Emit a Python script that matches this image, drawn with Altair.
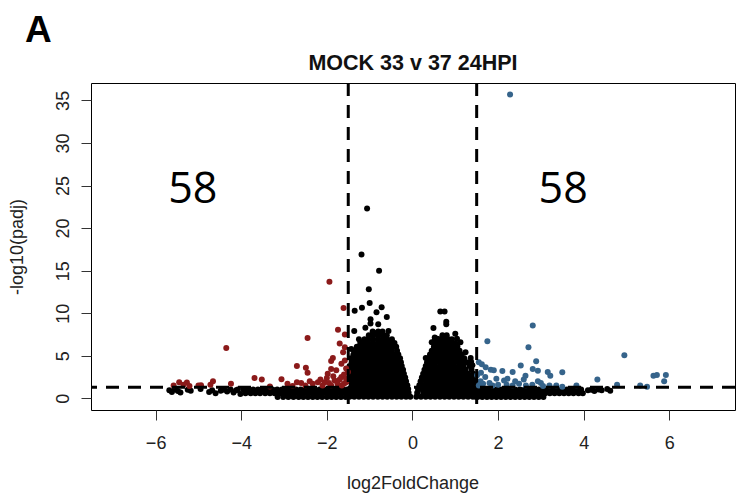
import altair as alt
import pandas as pd

# ---------------- data ----------------
title_text = "MOCK 33 v 37 24HPI"
panel_letter = "A"
x_title = "log2FoldChange"
y_title = "-log10(padj)"
x_ticks = [-6, -4, -2, 0, 2, 4, 6]
y_ticks = [0, 5, 10, 15, 20, 25, 30, 35]
lfc_cutoffs = [-1.5, 1.5]
padj_cutoff = [1.3]
count_labels = ["58", "58"]
count_x = [-5.13, 3.52]
count_y = [22.9, 22.9]

# dense non-significant genes, left hump (y, list of x)
left_blob_rows = [
    (0.20, [-1.47, -1.36, -1.25, -1.14, -1.03, -0.92, -0.81, -0.70, -0.59, -0.48, -0.37, -0.26, -0.15, -0.05]),
    (0.65, [-1.42, -1.31, -1.20, -1.09, -0.98, -0.87, -0.76, -0.65, -0.54, -0.43, -0.32, -0.21, -0.09]),
    (1.10, [-1.47, -1.36, -1.25, -1.14, -1.03, -0.92, -0.81, -0.70, -0.59, -0.48, -0.37, -0.26, -0.15, -0.10]),
    (1.55, [-1.42, -1.31, -1.20, -1.09, -0.98, -0.87, -0.76, -0.65, -0.54, -0.43, -0.32, -0.21, -0.12]),
    (2.00, [-1.47, -1.36, -1.25, -1.14, -1.03, -0.92, -0.81, -0.70, -0.59, -0.48, -0.37, -0.26, -0.15]),
    (2.45, [-1.42, -1.31, -1.20, -1.09, -0.98, -0.87, -0.76, -0.65, -0.54, -0.43, -0.32, -0.21, -0.17]),
    (2.90, [-1.47, -1.36, -1.25, -1.14, -1.03, -0.92, -0.81, -0.70, -0.59, -0.48, -0.37, -0.26, -0.20]),
    (3.35, [-1.42, -1.31, -1.20, -1.09, -0.98, -0.87, -0.76, -0.65, -0.54, -0.43, -0.32, -0.22]),
    (3.80, [-1.47, -1.36, -1.25, -1.14, -1.03, -0.92, -0.81, -0.70, -0.59, -0.48, -0.37, -0.25]),
    (4.25, [-1.42, -1.31, -1.20, -1.09, -0.98, -0.87, -0.76, -0.65, -0.54, -0.43, -0.32, -0.27]),
    (4.70, [-1.44, -1.36, -1.25, -1.14, -1.03, -0.92, -0.81, -0.70, -0.59, -0.48, -0.37, -0.29]),
    (5.15, [-1.38, -1.31, -1.20, -1.09, -0.98, -0.87, -0.76, -0.65, -0.54, -0.43, -0.33]),
    (5.60, [-1.36, -1.25, -1.14, -1.03, -0.92, -0.81, -0.70, -0.59, -0.48, -0.36]),
    (6.05, [-1.30, -1.20, -1.09, -0.98, -0.87, -0.76, -0.65, -0.54, -0.44, -0.38]),
    (6.50, [-1.22, -1.14, -1.03, -0.92, -0.81, -0.70, -0.59, -0.50, -0.42]),
    (6.95, [-1.12, -1.03, -0.92, -0.81, -0.70, -0.59, -0.48]),
    (7.40, [-1.02, -0.92, -0.81, -0.70, -0.60]),
    (7.85, [-0.93, -0.80, -0.70]),
]

# dense non-significant genes, right hump (y, list of x)
right_blob_rows = [
    (0.20, [0.09, 0.20, 0.31, 0.42, 0.53, 0.64, 0.75, 0.86, 0.97, 1.08, 1.19, 1.30, 1.41, 1.48]),
    (0.65, [0.11, 0.25, 0.36, 0.47, 0.58, 0.69, 0.80, 0.91, 1.02, 1.13, 1.24, 1.35, 1.45]),
    (1.10, [0.13, 0.20, 0.31, 0.42, 0.53, 0.64, 0.75, 0.86, 0.97, 1.08, 1.19, 1.30, 1.41, 1.48]),
    (1.55, [0.16, 0.25, 0.36, 0.47, 0.58, 0.69, 0.80, 0.91, 1.02, 1.13, 1.24, 1.35, 1.45]),
    (2.00, [0.19, 0.31, 0.42, 0.53, 0.64, 0.75, 0.86, 0.97, 1.08, 1.19, 1.30, 1.41, 1.47]),
    (2.45, [0.22, 0.30, 0.36, 0.47, 0.58, 0.69, 0.80, 0.91, 1.02, 1.13, 1.24, 1.35, 1.45]),
    (2.90, [0.25, 0.31, 0.42, 0.53, 0.64, 0.75, 0.86, 0.97, 1.08, 1.19, 1.30, 1.42]),
    (3.35, [0.28, 0.36, 0.47, 0.58, 0.69, 0.80, 0.91, 1.02, 1.13, 1.24, 1.38]),
    (3.80, [0.31, 0.42, 0.53, 0.64, 0.75, 0.86, 0.97, 1.08, 1.19, 1.33]),
    (4.25, [0.34, 0.43, 0.54, 0.65, 0.76, 0.87, 0.98, 1.09, 1.18, 1.27]),
    (4.70, [0.37, 0.48, 0.59, 0.70, 0.81, 0.92, 1.03, 1.13, 1.21]),
    (5.15, [0.41, 0.51, 0.62, 0.73, 0.84, 0.95, 1.06, 1.15]),
    (5.60, [0.45, 0.56, 0.67, 0.78, 0.89, 1.00, 1.10]),
    (6.05, [0.50, 0.61, 0.72, 0.83, 0.94, 1.05]),
    (6.50, [0.55, 0.66, 0.77, 0.88, 1.00]),
    (6.95, [0.62, 0.73, 0.84, 0.92]),
    (7.40, [0.70, 0.80]),
]

# low band of non-significant genes, left of -1.5
left_band_rows = [
    (1.05, [-4.08, -3.95, -3.84, -3.72, -3.61, -3.50, -3.38, -3.27, -3.16, -3.05, -2.94, -2.83,
            -2.72, -2.61, -2.50, -2.39, -2.28, -2.17, -2.06, -1.95, -1.84, -1.73, -1.62, -1.52]),
    (0.60, [-3.90, -3.78, -3.67, -3.56, -3.44, -3.33, -3.22, -3.10, -2.99, -2.88, -2.77, -2.66,
            -2.55, -2.44, -2.33, -2.22, -2.11, -2.00, -1.89, -1.78, -1.67, -1.56]),
    (0.15, [-3.15, -3.02, -2.90, -2.78, -2.66, -2.55, -2.44, -2.33, -2.22, -2.11, -2.00, -1.89,
            -1.78, -1.67, -1.56]),
]

# low band of non-significant genes, right of 1.5
right_band_rows = [
    (1.05, [1.52, 1.63, 1.74, 1.85, 1.96, 2.07, 2.18, 2.29, 2.40, 2.51, 2.62, 2.73, 2.84, 2.95,
            3.06, 3.17, 3.28, 3.39, 3.50, 3.61, 3.72, 3.83, 3.94]),
    (0.60, [1.56, 1.67, 1.78, 1.89, 2.00, 2.11, 2.22, 2.33, 2.44, 2.55, 2.66, 2.77, 2.88, 2.99,
            3.10, 3.21, 3.32, 3.43, 3.54, 3.65, 3.76, 3.88, 3.98]),
    (0.15, [1.52, 1.63, 1.74, 1.85, 1.96, 2.07, 2.18, 2.29, 2.40, 2.51, 2.62, 2.73, 2.84, 2.95, 3.06]),
]

# scattered non-significant genes at the tails
sparse_x = [-5.68, -5.62, -5.55, -5.48, -5.42, -5.25, -5.18, -4.95, -4.75, -4.68, -4.60, -4.48,
            -4.40, -4.33, -4.25, -4.18, -4.12, -4.02, 4.10, 4.18, 4.25, 4.35, 4.42, 4.55, 4.62]
sparse_y = [0.95, 0.75, 1.05, 0.85, 0.70, 1.00, 0.90, 1.10, 0.75, 0.95, 0.60, 0.90,
            1.00, 0.80, 1.05, 0.70, 0.95, 0.50, 0.95, 1.00, 0.85, 1.05, 0.95, 1.10, 0.90]

# black outliers above the humps
outlier_x = [-1.06, -1.19, -0.78, -1.02, -1.00, -1.18, -1.35, -0.72, -0.84, -0.60, -0.98, -0.98,
             -0.80, -1.36, -0.56, -1.25, -0.51, -1.43, -1.10, -0.90, -0.70, -1.20, -0.62,
             0.65, 0.75, 0.79, 0.79, 0.49, 0.52, 0.52, 1.00, 1.04, 1.12, 1.24, 0.31, 1.36,
             1.37, 1.40, 0.58, 0.45, 0.95]
outlier_y = [22.3, 16.9, 15.0, 12.8, 11.2, 10.65, 10.3, 10.7, 10.1, 9.55, 9.3, 8.8,
             8.7, 7.9, 7.9, 6.95, 6.2, 5.8, 8.3, 7.7, 7.5, 6.5, 6.3,
             10.2, 10.2, 9.0, 8.7, 8.25, 7.15, 6.8, 7.6, 7.0, 6.6, 5.4, 4.75, 4.75,
             4.3, 3.9, 7.0, 6.6, 6.2]

# significantly down-regulated (red)
red_x = [-1.94, -1.61, -4.35, -2.45, -1.74, -1.58, -1.70, -1.62, -1.86, -1.90, -2.70, -2.49,
         -2.45, -1.98, -1.90, -1.66, -1.58, -3.69, -3.52, -3.06, -2.70, -2.92, -3.33, -4.24,
         -4.66, -4.72, -4.94, -5.27, -5.35, -5.21, -5.58, -2.21, -2.05, -2.33, -1.82, -1.66,
         -1.55, -1.51, -1.78, -1.58, -1.60, -1.70, -1.75, -1.90, -2.10, -2.50, -2.60, -1.55,
         -1.65, -2.00, -2.80, -1.85, -1.55, -2.15, -2.40, -1.60, -1.95, -5.45, -5.00]
red_y = [13.7, 10.6, 5.9, 7.1, 8.05, 7.5, 6.45, 5.4, 4.75, 4.4, 3.8, 3.6,
         3.0, 2.9, 3.45, 4.05, 4.45, 2.4, 2.2, 2.25, 1.9, 1.7, 1.4, 1.7,
         2.0, 1.6, 1.55, 1.85, 1.6, 1.45, 1.5, 1.9, 1.9, 1.7, 2.1, 2.5,
         1.9, 3.1, 3.3, 6.0, 2.8, 2.2, 1.7, 1.5, 1.5, 1.5, 1.8, 3.5,
         1.5, 2.4, 1.45, 2.6, 2.3, 2.2, 2.0, 1.7, 1.8, 1.9, 1.5]

# significantly up-regulated (blue)
blue_x = [2.28, 2.81, 1.75, 2.71, 4.95, 1.55, 1.71, 1.83, 2.89, 2.81, 2.93, 2.53, 2.34, 2.10,
          1.96, 2.14, 2.22, 2.64, 3.16, 3.22, 3.50, 2.93, 3.20, 3.36, 3.50, 3.83, 4.32, 4.78,
          5.32, 5.48, 5.63, 5.71, 5.92, 5.88, 1.65, 1.59, 1.87, 2.34, 2.49, 2.65, 1.51, 1.60,
          1.70, 1.80, 2.00, 2.40, 2.80, 3.00, 1.55, 2.20, 1.62, 1.90, 2.60, 3.05]
blue_y = [35.7, 8.55, 6.7, 6.0, 5.05, 4.25, 3.65, 3.35, 4.35, 3.45, 3.25, 3.85, 3.1, 3.2,
          2.3, 2.1, 2.3, 2.65, 3.1, 2.65, 3.05, 2.0, 1.5, 1.5, 1.35, 1.5, 2.2, 1.6,
          1.5, 1.35, 2.65, 2.75, 2.75, 2.0, 1.7, 2.0, 1.5, 1.5, 1.7, 1.5, 2.7, 3.0,
          2.5, 1.8, 1.6, 2.0, 1.6, 1.8, 1.5, 1.6, 4.0, 3.3, 2.2, 1.45]

# ---------------- tables ----------------
rows = []
for block in (left_blob_rows, right_blob_rows, left_band_rows, right_band_rows):
    for yv, xs_ in block:
        rows += [(xv, yv) for xv in xs_]
rows += list(zip(sparse_x, sparse_y)) + list(zip(outlier_x, outlier_y))
black_df = pd.DataFrame(rows, columns=["lfc", "nlp"])
red_df = pd.DataFrame({"lfc": red_x, "nlp": red_y})
blue_df = pd.DataFrame({"lfc": blue_x, "nlp": blue_y})
vline_df = pd.DataFrame({"lfc": lfc_cutoffs})
hline_df = pd.DataFrame({"nlp": padj_cutoff})
count_df = pd.DataFrame({"lfc": count_x, "nlp": count_y, "label": count_labels})

W, H = 644, 327
FONT = "Liberation Sans"

xscale = alt.Scale(domain=[-7.51, 7.535], nice=False, zero=False)
yscale = alt.Scale(domain=[-1.37, 37.04], nice=False, zero=False)
xaxis = alt.Axis(values=x_ticks, title=None, domain=False, grid=False, tickSize=10,
                 tickColor="#333333", labelFont=FONT, labelFontSize=18, labelColor="#222222",
                 labelPadding=14, labelFlush=False, labelOverlap=False)
yaxis = alt.Axis(values=y_ticks, title=None, domain=False, grid=False, tickSize=10,
                 tickColor="#333333", labelFont=FONT, labelFontSize=18, labelColor="#222222",
                 labelAngle=270, labelAlign="center", labelBaseline="bottom",
                 labelPadding=9, labelFlush=False, labelOverlap=False)

X = alt.X("lfc:Q", scale=xscale, axis=xaxis)
Y = alt.Y("nlp:Q", scale=yscale, axis=yaxis)


def points(df, color):
    return alt.Chart(df).mark_circle(size=36, opacity=1, color=color).encode(x=X, y=Y)


black_layer = points(black_df, "#000000")
red_layer = points(red_df, "#8B1A1A")
blue_layer = points(blue_df, "#36648B")

vlines = alt.Chart(vline_df).mark_rule(color="black", strokeWidth=3, strokeDash=[13, 9]).encode(x=X)
hline = alt.Chart(hline_df).mark_rule(color="black", strokeWidth=3, strokeDash=[13, 9]).encode(y=Y)

counts = alt.Chart(count_df).mark_text(font="Open Sans", fontSize=43, align="center",
                                       baseline="alphabetic", color="black").encode(
    x=X, y=Y, text="label:N")


def label(text, x, y, **kw):
    return alt.Chart(pd.DataFrame({"t": [text]})).mark_text(**kw).encode(
        text="t:N", x=alt.value(x), y=alt.value(y))


title_layer = label(title_text, 322, -13, font=FONT, fontSize=21.5, fontWeight="bold",
                    align="center", baseline="alphabetic", color="#111111")
letter_layer = label(panel_letter, -66, -41, font=FONT, fontSize=37, fontWeight="bold",
                     align="left", baseline="alphabetic", color="black")
xtitle_layer = label(x_title, 322, 406, font=FONT, fontSize=18, align="center",
                     baseline="alphabetic", color="#222222")
ytitle_layer = label(y_title, -73, 164, font=FONT, fontSize=18, align="center",
                     baseline="middle", angle=270, color="#222222")

chart = alt.layer(
    black_layer, red_layer, blue_layer, vlines, hline, counts,
    title_layer, letter_layer, xtitle_layer, ytitle_layer,
).properties(
    width=W, height=H,
    padding={"left": 91, "top": 83, "right": 1, "bottom": 85},
    autosize=alt.AutoSizeParams(type="none"),
    background="white",
).configure_view(stroke="black", strokeWidth=1).configure_axis(grid=False)

chart.save("out.html", embed_options={"renderer": "svg", "actions": False})
